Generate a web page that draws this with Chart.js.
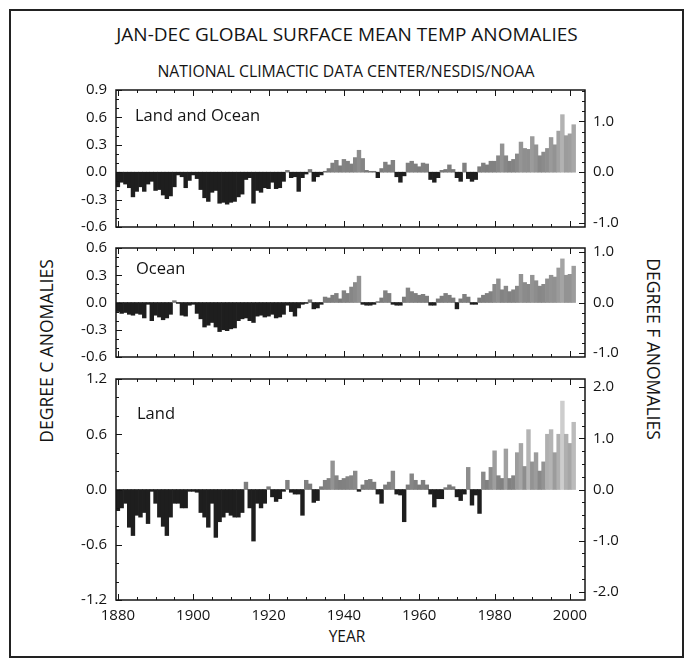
<!DOCTYPE html>
<html>
<head>
<meta charset="utf-8">
<script src="https://cdn.jsdelivr.net/npm/chart.js@4.4.1/dist/chart.umd.min.js"></script>
<style>
  body { margin: 0; background: #fff; width: 691px; height: 666px; position: relative; overflow: hidden; font-family: 'Open Sans', sans-serif; color: #141414; }
  #frame { position: absolute; left: 9px; top: 9px; width: 671px; height: 645px; border: 2px solid #222; }
  canvas { position: absolute; left: 60px; }
  .txt { position: absolute; white-space: nowrap; line-height: 1; }
  .center { transform: translate(-50%, -50%); }
  .up { transform: translate(-50%, -50%) rotate(-90deg); }
  .down { transform: translate(-50%, -50%) rotate(90deg); }
  .panel { font-size: 16.5px; transform: translateY(-50%); }
</style>
</head>
<body>
<div id="frame"></div>
<div class="txt center" style="left:347px;top:34px;font-size:19px">JAN-DEC GLOBAL SURFACE MEAN TEMP ANOMALIES</div>
<div class="txt center" style="left:346px;top:72px;font-size:15.8px">NATIONAL CLIMACTIC DATA CENTER/NESDIS/NOAA</div>
<div class="txt up" style="left:47px;top:351px;font-size:17.5px">DEGREE C ANOMALIES</div>
<div class="txt down" style="left:653px;top:349px;font-size:17.5px">DEGREE F ANOMALIES</div>
<div class="txt center" style="left:347px;top:637px;font-size:15.5px">YEAR</div>

<canvas id="c1" width="580" height="177" style="top:70px"></canvas>
<canvas id="c2" width="580" height="149" style="top:228px"></canvas>
<canvas id="c3" width="580" height="281" style="top:359px"></canvas>

<div class="txt panel" style="left:135px;top:115px">Land and Ocean</div>
<div class="txt panel" style="left:136px;top:268px">Ocean</div>
<div class="txt panel" style="left:137px;top:413px">Land</div>

<script>
const years = [];
for (let y = 1880; y <= 2001; y++) years.push(y);

// annual anomalies, deg C, 1880-2001
const landOcean = [
  -0.16, -0.11, -0.13, -0.17, -0.27, -0.21, -0.16, -0.21, -0.13, -0.10,
  -0.20, -0.19, -0.25, -0.29, -0.26, -0.16, -0.03, -0.05, -0.17, -0.09,
  -0.03, -0.07, -0.19, -0.28, -0.32, -0.22, -0.20, -0.34, -0.33, -0.35,
  -0.33, -0.32, -0.27, -0.24, -0.08, -0.06, -0.34, -0.20, -0.22, -0.17,
  -0.18, -0.11, -0.18, -0.17, -0.10, 0.02, -0.06, -0.05, -0.21, -0.06,
  -0.02, 0.03, -0.10, -0.05, -0.03, 0.01, 0.04, 0.10, 0.13, 0.07,
  0.14, 0.12, 0.09, 0.16, 0.24, 0.15, 0.02, 0.01, 0.01, -0.06,
  0.04, 0.11, 0.08, 0.13, -0.05, -0.11, -0.04, 0.10, 0.12, 0.09,
  0.06, 0.10, 0.09, -0.08, -0.11, -0.06, 0.02, 0.03, 0.08, 0.03,
  -0.06, -0.10, 0.10, -0.07, -0.10, -0.08, 0.06, 0.10, 0.08, 0.12,
  0.12, 0.18, 0.31, 0.18, 0.12, 0.14, 0.20, 0.33, 0.26, 0.25,
  0.39, 0.30, 0.18, 0.22, 0.26, 0.38, 0.30, 0.45, 0.63, 0.40,
  0.42, 0.52
];
const ocean = [
  -0.10, -0.12, -0.11, -0.13, -0.14, -0.12, -0.13, -0.17, -0.02, -0.20,
  -0.14, -0.16, -0.19, -0.17, -0.13, 0.02, -0.01, -0.14, -0.15, -0.03,
  -0.02, -0.12, -0.18, -0.27, -0.25, -0.22, -0.27, -0.32, -0.30, -0.31,
  -0.29, -0.28, -0.20, -0.18, -0.17, -0.20, -0.22, -0.15, -0.14, -0.16,
  -0.15, -0.13, -0.17, -0.16, -0.13, -0.03, -0.10, -0.15, -0.06, -0.02,
  -0.01, 0.03, -0.07, -0.06, -0.02, 0.06, 0.05, 0.08, 0.10, 0.04,
  0.13, 0.10, 0.17, 0.22, 0.29, -0.02, -0.03, -0.03, -0.02, 0.01,
  0.05, 0.13, 0.10, -0.02, -0.03, -0.03, 0.06, 0.16, 0.12, 0.10,
  0.08, 0.09, 0.07, -0.03, -0.03, 0.04, 0.07, 0.10, 0.08, 0.05,
  -0.07, 0.04, 0.09, 0.06, -0.02, -0.02, 0.05, 0.08, 0.10, 0.12,
  0.20, 0.26, 0.14, 0.18, 0.12, 0.14, 0.18, 0.31, 0.22, 0.20,
  0.30, 0.24, 0.18, 0.20, 0.26, 0.30, 0.28, 0.38, 0.48, 0.30,
  0.31, 0.40
];
const land = [
  -0.23, -0.20, -0.15, -0.41, -0.50, -0.28, -0.30, -0.25, -0.37, -0.02,
  -0.15, -0.30, -0.40, -0.50, -0.30, -0.15, -0.15, -0.20, -0.20, -0.02,
  -0.02, -0.03, -0.25, -0.30, -0.41, -0.15, -0.52, -0.35, -0.30, -0.25,
  -0.28, -0.30, -0.30, -0.25, 0.08, -0.20, -0.56, -0.15, -0.20, -0.15,
  0.03, -0.08, -0.13, -0.10, -0.02, 0.10, -0.03, -0.05, -0.05, -0.28,
  0.10, 0.06, -0.14, -0.12, 0.03, 0.10, 0.12, 0.31, 0.15, 0.10,
  0.12, 0.14, 0.15, 0.20, -0.02, 0.05, 0.10, 0.11, 0.08, -0.05,
  -0.15, 0.05, 0.08, 0.20, -0.05, -0.06, -0.35, 0.05, 0.17, 0.10,
  0.05, 0.10, 0.05, -0.05, -0.19, -0.10, -0.10, 0.02, 0.05, 0.03,
  -0.08, -0.12, -0.05, 0.24, -0.17, -0.06, -0.26, 0.19, 0.10, 0.24,
  0.42, 0.15, 0.12, 0.44, 0.12, 0.15, 0.40, 0.50, 0.25, 0.65,
  0.30, 0.40, 0.20, 0.30, 0.60, 0.65, 0.40, 0.60, 0.96, 0.60,
  0.50, 0.73
];

const xTicks = [1880, 1900, 1920, 1940, 1960, 1980, 2000];
const landOceanTicksC = [-0.6, -0.3, 0, 0.3, 0.6, 0.9];
const oceanTicksC = [-0.6, -0.3, 0, 0.3, 0.6];
const landTicksC = [-1.2, -0.6, 0, 0.6, 1.2];
const landOceanTicksF = [-1, 0, 1];
const oceanTicksF = [-1, 0, 1];
const landTicksF = [-2, -1, 0, 1, 2];

const tickFont = { family: "'Open Sans', sans-serif", size: 15 };

// inward tick marks on all four sides plus the box round the plot
const frameTicks = {
  id: 'frameTicks',
  afterDatasetsDraw(chart, args, opts) {
    const { ctx, chartArea: a, scales } = chart;
    const x = scales.x, yc = scales.y, yf = scales.yF;
    ctx.save();
    ctx.strokeStyle = '#151515';
    ctx.lineWidth = 1;
    ctx.beginPath();
    for (let yr = 1880; yr <= 2000; yr += 5) {
      const px = Math.round(x.getPixelForValue(yr)) + 0.5;
      const len = yr % 20 === 0 ? 6 : 3;
      ctx.moveTo(px, a.bottom); ctx.lineTo(px, a.bottom - len);
      ctx.moveTo(px, a.top); ctx.lineTo(px, a.top + len);
    }
    for (let v = yc.min; v <= yc.max + 1e-9; v += opts.minorC) {
      const py = Math.round(yc.getPixelForValue(v)) + 0.5;
      ctx.moveTo(a.left, py); ctx.lineTo(a.left + 3, py);
    }
    yc.ticks.forEach(t => {
      const py = Math.round(yc.getPixelForValue(t.value)) + 0.5;
      ctx.moveTo(a.left, py); ctx.lineTo(a.left + 6, py);
    });
    for (let v = Math.ceil(yf.min / opts.minorF) * opts.minorF; v <= yf.max + 1e-9; v += opts.minorF) {
      const py = Math.round(yf.getPixelForValue(v)) + 0.5;
      ctx.moveTo(a.right, py); ctx.lineTo(a.right - 3, py);
    }
    yf.ticks.forEach(t => {
      const py = Math.round(yf.getPixelForValue(t.value)) + 0.5;
      ctx.moveTo(a.right, py); ctx.lineTo(a.right - 6, py);
    });
    ctx.stroke();
    ctx.lineWidth = 1.5;
    ctx.strokeRect(a.left, a.top, a.width, a.height);
    ctx.restore();
  }
};

function barColor(c) {
  const v = c.parsed.y;
  if (v < 0) return '#1e1e1e';
  const g = Math.round(Math.min(205, 118 + v * 95));
  return 'rgb(' + g + ',' + g + ',' + g + ')';
}

function makePanel(id, values, ticksC, ticksF, minorC, minorF, showX) {
  const minC = ticksC[0], maxC = ticksC[ticksC.length - 1];
  new Chart(document.getElementById(id), {
    type: 'bar',
    data: {
      datasets: [{
        data: years.map((yr, i) => ({ x: yr, y: values[i] })),
        backgroundColor: barColor,
        borderWidth: 0,
        barPercentage: 1,
        categoryPercentage: 1,
        yAxisID: 'y'
      }]
    },
    options: {
      responsive: false,
      animation: false,
      layout: { padding: { top: 20, bottom: showX ? 0 : 20, left: 0, right: 0 } },
      plugins: {
        legend: { display: false },
        tooltip: { enabled: false },
        frameTicks: { minorC: minorC, minorF: minorF }
      },
      scales: {
        x: {
          type: 'linear',
          min: 1879.5,
          max: 2004,
          offset: false,
          display: showX,
          afterBuildTicks: s => { s.ticks = xTicks.map(v => ({ value: v })); },
          afterFit: s => { if (showX) s.height = 40; },
          grid: { display: false, drawTicks: false },
          border: { display: false },
          ticks: { font: tickFont, color: '#141414', padding: 7, maxRotation: 0, autoSkip: false, callback: v => String(v) }
        },
        y: {
          position: 'left',
          min: minC,
          max: maxC,
          afterBuildTicks: s => { s.ticks = ticksC.map(v => ({ value: v })); },
          afterFit: s => { s.width = 56; },
          grid: { display: false, drawTicks: false },
          border: { display: false },
          ticks: { font: tickFont, color: '#141414', padding: 9, autoSkip: false, callback: v => v.toFixed(1) }
        },
        yF: {
          position: 'right',
          min: minC * 1.8,
          max: maxC * 1.8,
          afterBuildTicks: s => { s.ticks = ticksF.map(v => ({ value: v })); },
          afterFit: s => { s.width = 55; },
          grid: { display: false, drawTicks: false },
          border: { display: false },
          ticks: { font: tickFont, color: '#141414', padding: 8, autoSkip: false, callback: v => v.toFixed(1) }
        }
      }
    },
    plugins: [frameTicks]
  });
}

makePanel('c1', landOcean, landOceanTicksC, landOceanTicksF, 0.1, 0.2, false);
makePanel('c2', ocean, oceanTicksC, oceanTicksF, 0.1, 0.2, false);
makePanel('c3', land, landTicksC, landTicksF, 0.2, 0.25, true);
</script>
</body>
</html>
